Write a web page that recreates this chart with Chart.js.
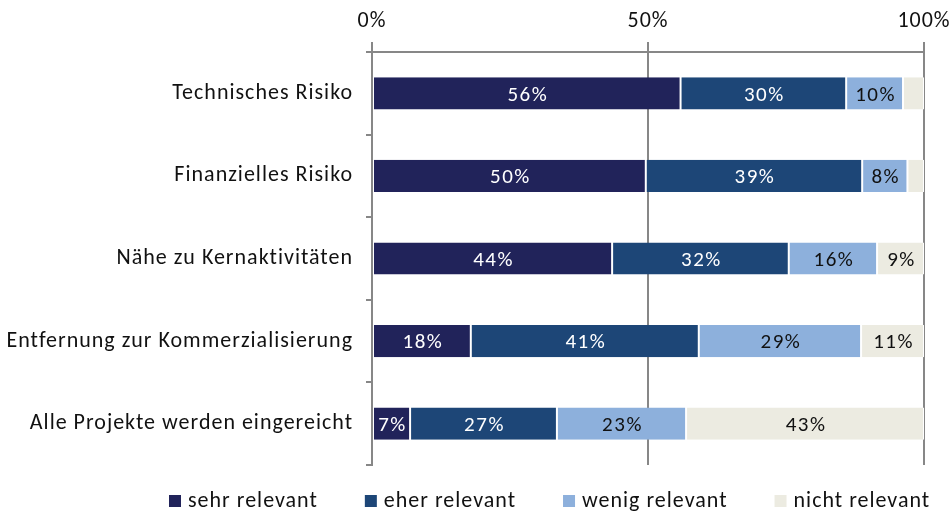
<!DOCTYPE html>
<html>
<head>
<meta charset="utf-8">
<script src="https://cdn.jsdelivr.net/npm/chart.js@4.4.1/dist/chart.umd.min.js"></script>
<style>
html,body{margin:0;padding:0;background:#fff;}
#wrap{width:952px;height:514px;}
</style>
</head>
<body>
<div id="wrap"><canvas id="c" width="952" height="514"></canvas></div>
<script>
const categories = ["Technisches Risiko","Finanzielles Risiko","Nähe zu Kernaktivitäten","Entfernung zur Kommerzialisierung","Alle Projekte werden eingereicht"];
const seriesNames = ["sehr relevant","eher relevant","wenig relevant","nicht relevant"];
const sehrRelevant  = [55.9, 49.6, 43.5, 17.9, 6.9];
const eherRelevant  = [30.0, 39.2, 32.0, 41.3, 26.6];
const wenigRelevant = [10.3, 8.2, 16.0, 29.4, 23.4];
const nichtRelevant = [3.8, 3.0, 8.5, 11.4, 43.1];
const xTicks = [0, 50, 100];

const colors = ["#21235a", "#1d4677", "#8db0dc", "#ecebe1"];
const labelColors = ["#ffffff", "#ffffff", "#111111", "#111111"];
const FONT = "Carlito, Lato, sans-serif";

const spacing = {
  id: 'spacing',
  beforeUpdate(chart) { chart.ctx.letterSpacing = '1px'; },
  beforeLayout(chart) { chart.ctx.letterSpacing = '1px'; },
  beforeDraw(chart) { chart.ctx.letterSpacing = '1px'; }
};

const valueLabels = {
  id: 'valueLabels',
  afterDatasetsDraw(chart) {
    const ctx = chart.ctx;
    ctx.save();
    ctx.letterSpacing = '1.5px';
    ctx.font = "21px " + FONT;
    ctx.textAlign = 'center';
    ctx.textBaseline = 'middle';
    chart.data.datasets.forEach((ds, di) => {
      const meta = chart.getDatasetMeta(di);
      meta.data.forEach((bar, i) => {
        const v = ds.data[i];
        if (v < 5) return;
        const x = (bar.x + bar.base) / 2;
        ctx.fillStyle = labelColors[di];
        ctx.fillText(Math.round(v) + "%", x + 1, bar.y + 2);
      });
    });
    ctx.restore();
  }
};

const customLegend = {
  id: 'customLegend',
  afterDraw(chart) {
    const ctx = chart.ctx;
    ctx.save();
    ctx.letterSpacing = '1px';
    ctx.font = "22px " + FONT;
    ctx.textAlign = 'left';
    ctx.textBaseline = 'alphabetic';
    let x = 169;
    const box = 12, gap = 7, itemGap = 47, baseY = 507;
    chart.data.datasets.forEach(ds => {
      ctx.fillStyle = ds.backgroundColor;
      ctx.fillRect(x, baseY - box, box, box);
      ctx.fillStyle = '#111111';
      ctx.fillText(ds.label, x + box + gap, baseY);
      x += box + gap + ctx.measureText(ds.label).width + itemGap;
    });
    ctx.restore();
  }
};

const allSeries = [sehrRelevant, eherRelevant, wenigRelevant, nichtRelevant];

new Chart(document.getElementById('c'), {
  type: 'bar',
  data: {
    labels: categories,
    datasets: allSeries.map((d, i) => ({
      label: seriesNames[i],
      data: d,
      backgroundColor: colors[i],
      borderColor: '#ffffff',
      borderWidth: {left: 1, right: 1, top: 0, bottom: 0},
      borderSkipped: false,
      barPercentage: 0.39,
      categoryPercentage: 1.0
    }))
  },
  options: {
    indexAxis: 'y',
    responsive: false,
    maintainAspectRatio: false,
    animation: false,
    layout: { padding: { top: 0, right: 28, left: 0, bottom: 49 } },
    scales: {
      x: {
        position: 'top',
        stacked: true,
        min: 0, max: 100,
        afterBuildTicks(scale) { scale.ticks = xTicks.map(v => ({value: v})); },
        afterFit(scale) { scale.height = 52; scale.paddingRight = 0; scale.paddingLeft = 0; },
        ticks: {
          callback: v => v + '%',
          color: '#111',
          font: { family: FONT, size: 22 },
          padding: 7,
          maxRotation: 0
        },
        grid: { color: '#878787', lineWidth: 2, tickLength: 10, drawTicks: true },
        border: { display: true, color: '#878787', width: 2 }
      },
      y: {
        stacked: true,
        afterFit(scale) { scale.width = 372; },
        ticks: {
          color: '#111',
          font: { family: FONT, size: 22 },
          padding: 13
        },
        grid: { drawOnChartArea: false, drawTicks: true, tickLength: 6, color: '#878787', lineWidth: 2 },
        border: { display: true, color: '#878787', width: 2 }
      }
    },
    plugins: {
      legend: { display: false },
      tooltip: { enabled: false }
    }
  },
  plugins: [spacing, valueLabels, customLegend]
});
</script>
</body>
</html>
